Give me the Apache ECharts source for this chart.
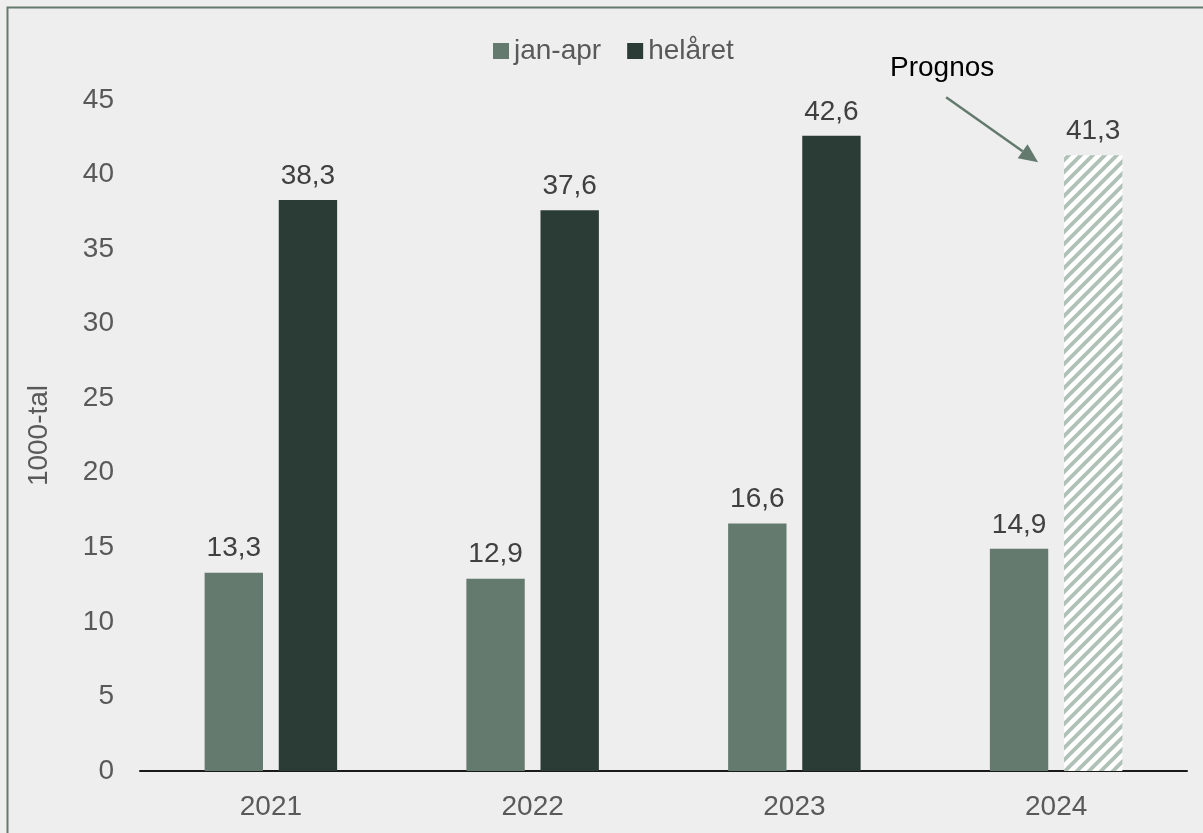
<!DOCTYPE html>
<html>
<head>
<meta charset="utf-8">
<script src="https://cdn.jsdelivr.net/npm/echarts@6/dist/echarts.min.js"></script>
<style>
html,body{margin:0;padding:0;background:#eeeeee;}
#c{width:1203px;height:833px;}
</style>
</head>
<body>
<div id="c"></div>
<script>
const categories = ['2021', '2022', '2023', '2024'];
const janApr = [13.3, 12.9, 16.6, 14.9];
const helaret = [38.3, 37.6, 42.6, 41.3];
const forecastIndex = 3;
const yTicks = {min: 0, max: 45, interval: 5};

const FONT = 'Liberation Sans, Arial, sans-serif';

function makePattern() {
  const s = 12;
  const cv = document.createElement('canvas');
  cv.width = s; cv.height = s;
  const ctx = cv.getContext('2d');
  ctx.fillStyle = '#ffffff';
  ctx.fillRect(0, 0, s, s);
  ctx.strokeStyle = '#b0c1b7';
  ctx.lineWidth = 3.8;
  ctx.beginPath();
  ctx.moveTo(0, s); ctx.lineTo(s, 0);
  ctx.moveTo(-s / 2, s / 2); ctx.lineTo(s / 2, -s / 2);
  ctx.moveTo(s / 2, s * 1.5); ctx.lineTo(s * 1.5, s / 2);
  ctx.stroke();
  return {image: cv, repeat: 'repeat'};
}
const pattern = makePattern();

const fmt = p => p.value.toFixed(1).replace('.', ',');
const labelCfg = {
  show: true, position: 'top', distance: 10,
  formatter: fmt, color: '#404040', fontSize: 28, fontFamily: FONT
};

const chart = echarts.init(document.getElementById('c'));
const option = {
  backgroundColor: '#eeeeee',
  animation: false,
  textStyle: {fontFamily: FONT},
  legend: {
    top: 32, left: 488,
    itemWidth: 16, itemHeight: 16, itemGap: 26,
    textStyle: {color: '#595959', fontSize: 28, fontFamily: FONT},
    data: [{name: 'jan-apr', icon: 'rect'}, {name: 'helåret', icon: 'rect'}]
  },
  grid: {left: 140, right: 16, top: 100, bottom: 62},
  xAxis: {
    type: 'category', data: categories,
    axisLine: {lineStyle: {color: '#1a1a1a', width: 2}},
    axisTick: {show: false},
    axisLabel: {color: '#595959', fontSize: 28, fontFamily: FONT, margin: 22}
  },
  yAxis: {
    type: 'value', min: yTicks.min, max: yTicks.max, interval: yTicks.interval,
    name: '1000-tal', nameLocation: 'middle', nameGap: 87, nameRotate: 90,
    nameTextStyle: {color: '#595959', fontSize: 28, fontFamily: FONT},
    axisLine: {show: false}, axisTick: {show: false}, splitLine: {show: false},
    axisLabel: {color: '#595959', fontSize: 28, fontFamily: FONT, margin: 26}
  },
  series: [
    {
      name: 'jan-apr', type: 'bar', data: janApr,
      barWidth: '22.3%', barGap: '27%',
      itemStyle: {color: '#647a6f'},
      label: labelCfg
    },
    {
      name: 'helåret', type: 'bar',
      data: helaret.map((v, i) => i === forecastIndex ? {value: v, itemStyle: {color: pattern}} : v),
      barWidth: '22.3%',
      itemStyle: {color: '#2b3b35'},
      label: labelCfg
    }
  ]
};
chart.setOption(option);

// annotation anchored to the forecast bar
const anchor = chart.convertToPixel({seriesIndex: 1}, [categories[forecastIndex], helaret[forecastIndex]]);
const tip = [anchor[0] - 18, anchor[1] + 7];
const start = [anchor[0] - 110, anchor[1] - 58];
const dx = tip[0] - start[0], dy = tip[1] - start[1];
const len = Math.sqrt(dx * dx + dy * dy);
const ux = dx / len, uy = dy / len;
const hl = 19, hw = 8.5;
const base = [tip[0] - ux * hl, tip[1] - uy * hl];
const p1 = [base[0] - uy * hw, base[1] + ux * hw];
const p2 = [base[0] + uy * hw, base[1] - ux * hw];

chart.setOption({
  graphic: [
    {type: 'rect', shape: {x: 7.5, y: 7.5, width: 1220, height: 850},
     style: {fill: 'none', stroke: '#66796f', lineWidth: 2}, silent: true, z: 100},
    {type: 'line', shape: {x1: start[0], y1: start[1], x2: base[0], y2: base[1]},
     style: {stroke: '#647a6f', lineWidth: 2.5}, z: 100},
    {type: 'polygon', shape: {points: [tip, p1, p2]}, style: {fill: '#647a6f'}, z: 100},
    {type: 'text', x: anchor[0] - 114, y: anchor[1] - 87,
     style: {text: 'Prognos', fill: '#000000', font: '28px ' + FONT, align: 'center', verticalAlign: 'middle'}, z: 100}
  ]
});
</script>
</body>
</html>
